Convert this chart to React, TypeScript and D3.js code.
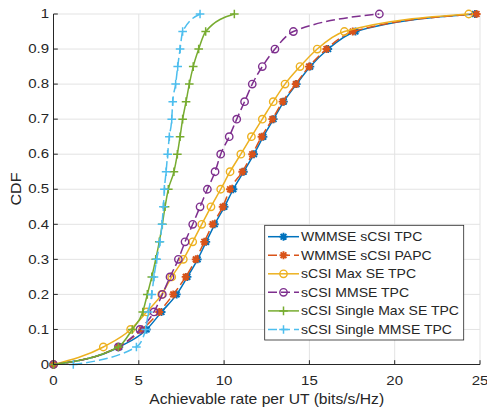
import React from "react";
import * as d3 from "d3";

const cdfLevels = [0, 0.05, 0.1, 0.15, 0.2, 0.25, 0.3, 0.35, 0.4, 0.45, 0.5, 0.55, 0.6, 0.65, 0.7, 0.75, 0.8, 0.85, 0.9, 0.95, 1];

const wmmseTpc = [0, 3.85, 5.46, 6.33, 7.22, 7.85, 8.45, 8.95, 9.45, 10.02, 10.54, 11.15, 11.75, 12.3, 12.9, 13.5, 14.25, 15.05, 16.1, 17.7, 24.7];
const wmmsePapc = [0, 3.8, 5.2, 6.2, 7.02, 7.75, 8.34, 8.84, 9.33, 9.92, 10.35, 11.07, 11.65, 12.2, 12.83, 13.43, 14.2, 14.98, 16.0, 17.54, 24.8];
const maxSeTpc = [0, 2.92, 4.52, 5.46, 6.34, 6.93, 7.61, 8.16, 8.69, 9.23, 9.8, 10.35, 10.98, 11.6, 12.24, 12.88, 13.57, 14.45, 15.46, 17.05, 24.34];
const mmseTpc = [0, 3.8, 5.07, 5.89, 6.38, 6.83, 7.32, 7.71, 8.16, 8.59, 9.02, 9.47, 9.8, 10.3, 10.74, 11.2, 11.65, 12.24, 12.98, 14.06, 19.1];
const singleMaxSeTpc = [0, 3.8, 4.62, 5.23, 5.5, 5.76, 5.99, 6.2, 6.38, 6.54, 6.73, 7.06, 7.26, 7.42, 7.57, 7.77, 7.96, 8.19, 8.51, 8.92, 10.6];
const singleMmseTpc = [1.16, 4.86, 5.4, 5.56, 5.76, 5.89, 6.05, 6.24, 6.36, 6.44, 6.5, 6.6, 6.69, 6.79, 6.93, 6.99, 7.16, 7.28, 7.42, 7.57, 8.59];

const seriesNames = [
  "WMMSE sCSI TPC",
  "WMMSE sCSI PAPC",
  "sCSI Max SE TPC",
  "sCSI MMSE TPC",
  "sCSI Single Max SE TPC",
  "sCSI Single MMSE TPC",
];
const seriesValues = [wmmseTpc, wmmsePapc, maxSeTpc, mmseTpc, singleMaxSeTpc, singleMmseTpc];
const seriesColors = ["#0072BD", "#D95319", "#EDB120", "#7E2F8E", "#77AC30", "#4DBEEE"];
const seriesDashed = [false, true, false, true, false, true];
const seriesMarkers = ["star", "star", "circle", "circle", "plus", "plus"];

const xTicks = [0, 5, 10, 15, 20, 25];
const yTicks = [0, 0.1, 0.2, 0.3, 0.4, 0.5, 0.6, 0.7, 0.8, 0.9, 1];
const xLabel = "Achievable rate per UT (bits/s/Hz)";
const yLabel = "CDF";

const W = 487;
const H = 407;
const left = 53.5;
const right = 480;
const top = 14;
const bottom = 364.5;
const axisColor = "#262626";
const gridColor = "#e3e3e3";
const FONT = "'Liberation Sans', Arial, Helvetica, sans-serif";
const DASH = "9,4";

function Marker({ type, x, y, color }: { type: string; x: number; y: number; color: string }) {
  if (type === "circle") {
    return <circle cx={x} cy={y} r={3.7} fill="none" stroke={color} strokeWidth={1.4} />;
  }
  if (type === "plus") {
    const s = 4.3;
    return (
      <path d={`M${x - s},${y}H${x + s}M${x},${y - s}V${y + s}`} stroke={color} strokeWidth={1.5} fill="none" />
    );
  }
  const s = 4.0;
  const d = s * 0.72;
  return (
    <path
      d={`M${x - s},${y}H${x + s}M${x},${y - s}V${y + s}M${x - d},${y - d}L${x + d},${y + d}M${x - d},${y + d}L${x + d},${y - d}`}
      stroke={color}
      strokeWidth={1.9}
      fill="none"
    />
  );
}

function SText({ x, y, sx, size, anchor, children, rotate }: any) {
  const t = rotate
    ? `translate(${x},${y}) rotate(-90) scale(${sx},1)`
    : `translate(${x},${y}) scale(${sx},1)`;
  return (
    <text transform={t} fontSize={size} fontFamily={FONT} fill={axisColor} textAnchor={anchor}>
      {children}
    </text>
  );
}

export default function App() {
  const xScale = d3.scaleLinear().domain([0, 25]).range([left, right]);
  const yScale = d3.scaleLinear().domain([0, 1]).range([bottom, top]);
  const line = d3
    .line<[number, number]>()
    .x((d) => xScale(d[0]))
    .y((d) => yScale(d[1]))
    .curve(d3.curveMonotoneX);

  const legendX0 = 264.7;
  const legendY0 = 225.3;
  const legendW = 199;
  const legendH = 114.7;
  const rowH = 18.55;

  return (
    <svg width={W} height={H} style={{ position: "absolute", left: 0, top: 0, background: "#fff" }}>
      <rect x={0} y={0} width={W} height={H} fill="#fff" />
      {xTicks.map((t) => (
        <line key={"gx" + t} x1={xScale(t)} x2={xScale(t)} y1={top} y2={bottom} stroke={gridColor} strokeWidth={1} />
      ))}
      {yTicks.map((t) => (
        <line key={"gy" + t} x1={left} x2={right} y1={yScale(t)} y2={yScale(t)} stroke={gridColor} strokeWidth={1} />
      ))}
      {seriesValues.map((vals, i) => {
        const pts: [number, number][] = vals.map((v, j) => [v, cdfLevels[j]]);
        return (
          <g key={"s" + i}>
            <path
              d={line(pts) || ""}
              fill="none"
              stroke={seriesColors[i]}
              strokeWidth={1.5}
              strokeDasharray={seriesDashed[i] ? DASH : undefined}
            />
            {pts.map((p, j) => (
              <Marker key={j} type={seriesMarkers[i]} x={xScale(p[0])} y={yScale(p[1])} color={seriesColors[i]} />
            ))}
          </g>
        );
      })}
      <line x1={left} x2={left} y1={top} y2={bottom} stroke={axisColor} strokeWidth={1} />
      <line x1={left} x2={right} y1={bottom} y2={bottom} stroke={axisColor} strokeWidth={1} />
      {xTicks.map((t) => (
        <g key={"xt" + t}>
          <line x1={xScale(t)} x2={xScale(t)} y1={bottom} y2={bottom - 4.3} stroke={axisColor} strokeWidth={1} />
          <SText x={xScale(t)} y={384.5} sx={1.25} size={12} anchor="middle">
            {String(t)}
          </SText>
        </g>
      ))}
      {yTicks.map((t) => (
        <g key={"yt" + t}>
          <line x1={left} x2={left + 4.3} y1={yScale(t)} y2={yScale(t)} stroke={axisColor} strokeWidth={1} />
          <SText x={49} y={yScale(t) + 4.2} sx={1.25} size={12} anchor="end">
            {t === 0 ? "0" : t === 1 ? "1" : String(t)}
          </SText>
        </g>
      ))}
      <SText x={266.7} y={404} sx={1.12} size={14} anchor="middle">
        {xLabel}
      </SText>
      <SText x={20.5} y={189} sx={1.15} size={14} anchor="middle" rotate>
        {yLabel}
      </SText>
      <rect x={legendX0} y={legendY0} width={legendW} height={legendH} fill="#fff" stroke={axisColor} strokeWidth={0.8} />
      {seriesNames.map((name, i) => {
        const cy = 236.7 + i * rowH;
        return (
          <g key={"lg" + i}>
            <line
              x1={268}
              x2={299}
              y1={cy}
              y2={cy}
              stroke={seriesColors[i]}
              strokeWidth={1.5}
              strokeDasharray={seriesDashed[i] ? DASH : undefined}
            />
            <Marker type={seriesMarkers[i]} x={283.5} y={cy} color={seriesColors[i]} />
            <SText x={301} y={cy + 4.3} sx={1.17} size={12} anchor="start">
              {name}
            </SText>
          </g>
        );
      })}
    </svg>
  );
}
